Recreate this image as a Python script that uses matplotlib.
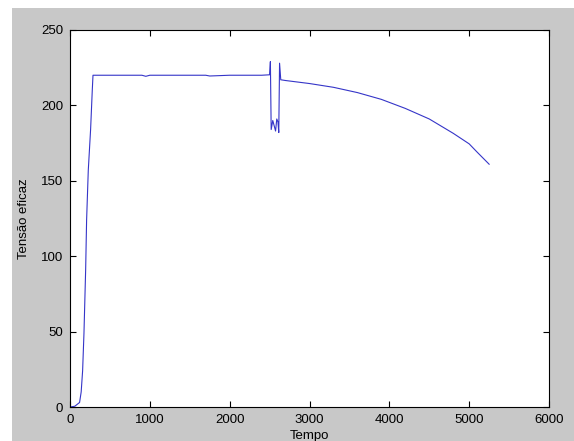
# Tensao eficaz x Tempo

import numpy as np
import matplotlib.pyplot as plt
from matplotlib.patches import Rectangle

tempo = [0, 60, 120, 140, 158, 175, 196, 208, 229, 258, 279, 288,
         500, 900, 950, 1000, 1500, 1700, 1750, 2000, 2400, 2500,
         2510, 2520, 2540, 2560, 2575, 2590, 2605, 2615, 2625, 2640,
         2700, 3000, 3300, 3600, 3900, 4200, 4500, 4800, 5000, 5100, 5250]
tensao = [0, 0.5, 3, 10, 24, 49, 91, 124, 157, 184, 210, 220,
          220, 220, 219.3, 220, 220, 220, 219.5, 220, 220, 220.3,
          229, 184, 190, 186, 183, 191, 189, 182, 228, 217,
          216.5, 214.5, 212, 208.5, 204, 198, 191, 181.5, 174.5, 169, 161]

plt.rcParams['font.family'] = ['Liberation Sans', 'DejaVu Sans']

W, H = 574, 441
fig = plt.figure(figsize=(W/100, H/100), dpi=100, facecolor='white')
fig.patches.append(Rectangle((12/W, 0), 1, 1 - 8/H, transform=fig.transFigure,
                             facecolor='#c8c8c8', edgecolor='none', zorder=-10))

ax = fig.add_axes([70/W, (H-407)/H, (549-70)/W, (407-30)/H])
ax.set_zorder(5)
ax.plot(tempo, tensao, color='#3535c8', lw=0.8)
ax.set_xlim(0, 6000)
ax.set_ylim(0, 250)
ax.set_xticks(np.arange(0, 6001, 1000))
ax.set_yticks(np.arange(0, 251, 50))
ax.tick_params(direction='in', top=True, right=True, length=4, labelsize=9.5, pad=5)
for s in ax.spines.values():
    s.set_linewidth(0.8)
ax.set_xlabel('Tempo', fontsize=9.5, labelpad=3)
ax.set_ylabel('Tensão eficaz', fontsize=9.5, labelpad=8)

fig.savefig('out.png', dpi=100, facecolor=fig.get_facecolor())
